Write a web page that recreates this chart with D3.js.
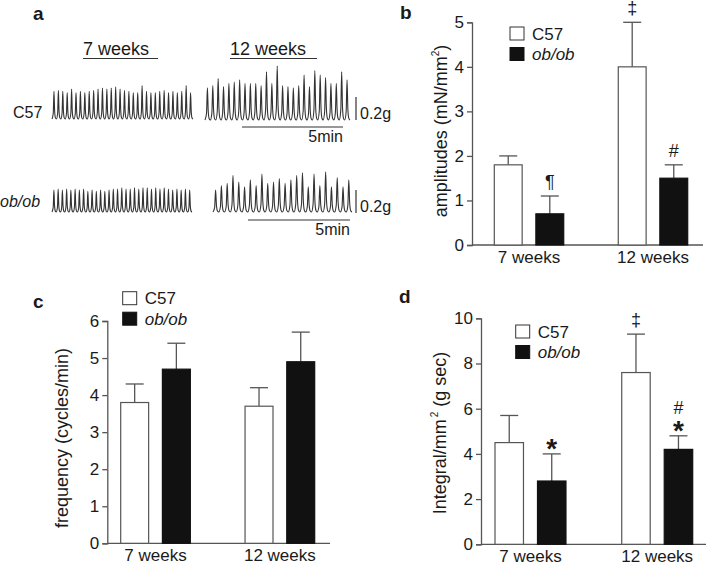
<!DOCTYPE html>
<html><head><meta charset="utf-8">
<script src="https://cdn.jsdelivr.net/npm/d3@7"></script>
<style>
body{margin:0;background:#fff}
svg{display:block}
text{font-family:"Liberation Sans",Arial,Helvetica,sans-serif;fill:#1a1a1a}
</style>
</head><body>
<svg id="chart" width="707" height="563"></svg>
<script>
// ---------- DATA ----------
const groups = ["7 weeks", "12 weeks"];
const series = ["C57", "ob/ob"];

// panel b: amplitudes (mN/mm²)
const ampC57 = [1.8, 4.0];
const ampC57Err = [0.2, 1.0];
const ampOb = [0.7, 1.5];
const ampObErr = [0.4, 0.3];
const ampTicks = [0, 1, 2, 3, 4, 5];
const ampMarkC57 = ["", "‡"];
const ampMarkOb = ["¶", "#"];

// panel c: frequency (cycles/min)
const freqC57 = [3.8, 3.7];
const freqC57Err = [0.5, 0.5];
const freqOb = [4.7, 4.9];
const freqObErr = [0.7, 0.8];
const freqTicks = [0, 1, 2, 3, 4, 5, 6];

// panel d: Integral/mm² (g sec)
const intC57 = [4.5, 7.6];
const intC57Err = [1.2, 1.7];
const intOb = [2.8, 4.2];
const intObErr = [1.2, 0.6];
const intTicks = [0, 2, 4, 6, 8, 10];
const intMarkC57 = ["", "‡"];
const intMarkOb = ["*", "#*"];

// panel a: peak amplitudes (g) of each contraction in the traces
const peaksC57w7 = [0.24,0.25,0.24,0.23,0.26,0.23,0.24,0.23,0.24,0.25,0.26,0.27,0.26,0.27,0.28,0.26,0.25,0.24,0.23,0.23,0.29,0.24,0.23,0.23,0.24,0.25,0.23,0.24,0.23,0.24,0.29,0.23];
const peaksC57w12 = [0.28,0.30,0.36,0.29,0.32,0.33,0.35,0.32,0.32,0.32,0.30,0.42,0.32,0.47,0.30,0.29,0.28,0.30,0.39,0.29,0.43,0.39,0.37,0.32,0.32,0.42,0.35];
const peaksObw7 = [0.19,0.20,0.19,0.20,0.19,0.20,0.19,0.20,0.18,0.19,0.18,0.19,0.18,0.19,0.20,0.20,0.21,0.20,0.20,0.21,0.20,0.21,0.21,0.20,0.21,0.20,0.21,0.20,0.19,0.20,0.19,0.20,0.19];
const peaksObw12 = [0.19,0.23,0.25,0.32,0.26,0.22,0.28,0.23,0.33,0.25,0.26,0.29,0.25,0.28,0.32,0.34,0.22,0.33,0.23,0.35,0.22,0.30,0.22,0.28];
const scaleBarG = 0.2;
const timeBarMin = 5;

// ---------- DRAW ----------
const svg = d3.select("#chart");
svg.append("rect").attr("width", 707).attr("height", 563).attr("fill", "#fff");
const GREY = "#555";

// ---- panel a ----
svg.append("text").attr("x", 33).attr("y", 20).attr("font-size", 19).attr("font-weight", "bold").text("a");

function waveData(peaks) {
  const pts = [[0, 0]];
  peaks.forEach((a, i) => {
    pts.push([i + 0.28, 0.2 * a]);
    pts.push([i + 0.45, a]);
    pts.push([i + 0.6, 0.28 * a]);
    pts.push([i + 0.78, 0.04 * a]);
    pts.push([i + 1, 0]);
  });
  return pts;
}
const pxPerG = 115;
function drawTrace(peaks, x0, x1, base) {
  const x = d3.scaleLinear().domain([0, peaks.length]).range([x0, x1]);
  const y = d3.scaleLinear().domain([0, 1]).range([base, base - pxPerG]);
  const line = d3.line().x(d => x(d[0])).y(d => y(d[1])).curve(d3.curveMonotoneX);
  svg.append("path").attr("d", line(waveData(peaks)))
    .attr("fill", "none").attr("stroke", "#333").attr("stroke-width", 1.1);
  return y;
}
const yC57 = drawTrace(peaksC57w7, 52, 193, 119);
drawTrace(peaksC57w12, 205, 350, 120);
const yOb = drawTrace(peaksObw7, 52, 192, 212);
drawTrace(peaksObw12, 213, 352, 212);

// headers
[["7 weeks", 83, 158], ["12 weeks", 230, 317]].forEach(([t, xa, xb]) => {
  svg.append("text").attr("x", xa).attr("y", 55).attr("font-size", 18).text(t);
  svg.append("line").attr("x1", xa).attr("x2", xb).attr("y1", 58.5).attr("y2", 58.5)
    .attr("stroke", "#333").attr("stroke-width", 1.2);
});
svg.append("text").attr("x", 13).attr("y", 118).attr("font-size", 16).text("C57");
svg.append("text").attr("x", 0).attr("y", 207).attr("font-size", 16).attr("font-style", "italic").text("ob/ob");

// scale bars
[[yC57, 119], [yOb, 212]].forEach(([y, b]) => {
  svg.append("line").attr("x1", 356).attr("x2", 356)
    .attr("y1", y(0) + 1).attr("y2", y(scaleBarG) + 1)
    .attr("stroke", "#333").attr("stroke-width", 1.2);
  svg.append("text").attr("x", 360).attr("y", b).attr("font-size", 16).text(scaleBarG + "g");
});
[[242, 343, 127, 142], [248, 350, 220, 235]].forEach(([xa, xb, yl, yt]) => {
  const t = d3.scaleLinear().domain([0, timeBarMin]).range([xa, xb]);
  svg.append("line").attr("x1", t(0)).attr("x2", t(timeBarMin)).attr("y1", yl).attr("y2", yl)
    .attr("stroke", "#333").attr("stroke-width", 1.2);
  svg.append("text").attr("x", t(timeBarMin)).attr("y", yt).attr("text-anchor", "end")
    .attr("font-size", 16).text(timeBarMin + "min");
});

// ---- bar panels ----
function barPanel(cfg) {
  const g = svg.append("g");
  const y = d3.scaleLinear().domain(cfg.domain).range([cfg.yBot, cfg.yTop]);
  const x0 = d3.scaleBand().domain(groups).range([cfg.bandL, cfg.bandR]).paddingInner(0.44).paddingOuter(0);
  const x1 = d3.scaleBand().domain(series).range([0, x0.bandwidth()]).paddingInner(0.33);
  const vals = [cfg.c57, cfg.ob], errs = [cfg.c57Err, cfg.obErr], marks = [cfg.markC57 || ["", ""], cfg.markOb || ["", ""]];
  const fills = ["#fff", "#111"];

  // x axis line
  g.append("line").attr("x1", cfg.axisX).attr("x2", cfg.xEnd).attr("y1", y(0)).attr("y2", y(0))
    .attr("stroke", GREY).attr("stroke-width", 1.3);
  // y axis
  const ax = g.append("g").attr("transform", `translate(${cfg.axisX},0)`)
    .call(d3.axisLeft(y).tickValues(cfg.ticks).tickFormat(d3.format("d")).tickSizeOuter(0).tickSize(5).tickPadding(3));
  ax.select(".domain").attr("stroke", GREY).attr("stroke-width", 1.3);
  ax.selectAll(".tick line").attr("stroke", GREY).attr("stroke-width", 1.3);
  ax.selectAll(".tick text").attr("font-size", 17).attr("font-family", "Liberation Sans, Arial, sans-serif").attr("fill", "#1a1a1a");

  series.forEach((s, si) => {
    groups.forEach((grp, gi) => {
      const bx = x0(grp) + x1(s), bw = x1.bandwidth(), cx = bx + bw / 2;
      const v = vals[si][gi], e = errs[si][gi];
      g.append("line").attr("x1", cx).attr("x2", cx).attr("y1", y(v)).attr("y2", y(v + e))
        .attr("stroke", GREY).attr("stroke-width", 1.3);
      g.append("line").attr("x1", cx - 9).attr("x2", cx + 9).attr("y1", y(v + e)).attr("y2", y(v + e))
        .attr("stroke", GREY).attr("stroke-width", 1.3);
      g.append("rect").attr("x", bx).attr("y", y(v)).attr("width", bw).attr("height", y(0) - y(v))
        .attr("fill", fills[si]).attr("stroke", si === 0 ? GREY : "#111").attr("stroke-width", 1.2);
      // significance marks
      const m = marks[si][gi];
      let yy = y(v + e);
      for (let k = m.length - 1; k >= 0; k--) {
        const ch = m[k];
        if (ch === "*") {
          g.append("text").attr("x", cx).attr("y", yy + 4).attr("text-anchor", "middle")
            .attr("font-size", 28).attr("font-weight", "bold").text("*");
          yy -= 14;
        } else {
          g.append("text").attr("x", cx).attr("y", yy - 8).attr("text-anchor", "middle")
            .attr("font-size", 18).text(ch);
          yy -= 18;
        }
      }
    });
  });
  // x labels
  groups.forEach(grp => {
    g.append("text").attr("x", x0(grp) + x0.bandwidth() / 2).attr("y", y(0) + 18)
      .attr("text-anchor", "middle").attr("font-size", 17).text(grp);
  });
  // y title
  const t = g.append("text").attr("transform", `translate(${cfg.titleX},${cfg.titleY}) rotate(-90)`)
    .attr("text-anchor", "middle").attr("font-size", 18);
  cfg.title(t);
  // legend
  series.forEach((s, si) => {
    const ly = cfg.legY + si * 20.5;
    g.append("rect").attr("x", cfg.legX).attr("y", ly).attr("width", 14).attr("height", 13)
      .attr("fill", fills[si]).attr("stroke", si === 0 ? "#333" : "#111").attr("stroke-width", 1);
    g.append("text").attr("x", cfg.legX + 22).attr("y", ly + 12.5).attr("font-size", 17)
      .attr("font-style", si === 1 ? "italic" : "normal").text(s);
  });
  svg.append("text").attr("x", cfg.letter[1]).attr("y", cfg.letter[2]).attr("font-size", 19)
    .attr("font-weight", "bold").text(cfg.letter[0]);
}

barPanel({
  domain: [0, 5], ticks: ampTicks, yBot: 245, yTop: 22.3, axisX: 472, xEnd: 703,
  bandL: 494.3, bandR: 687.7, c57: ampC57, c57Err: ampC57Err, ob: ampOb, obErr: ampObErr,
  markC57: ampMarkC57, markOb: ampMarkOb, titleX: 447, titleY: 131,
  title: t => { t.append("tspan").text("amplitudes (mN/mm"); t.append("tspan").attr("font-size", 10).attr("dy", -8).text("2"); t.append("tspan").attr("dy", 8).text(")"); },
  legX: 510, legY: 27, letter: ["b", 400, 19]
});
barPanel({
  domain: [0, 6], ticks: freqTicks, yBot: 543.3, yTop: 321, axisX: 107.3, xEnd: 330,
  bandL: 120.7, bandR: 314.7, c57: freqC57, c57Err: freqC57Err, ob: freqOb, obErr: freqObErr,
  titleX: 68, titleY: 438,
  title: t => t.text("frequency (cycles/min)"),
  legX: 122.7, legY: 291.7, letter: ["c", 33, 308]
});
barPanel({
  domain: [0, 10], ticks: intTicks, yBot: 544.3, yTop: 318.3, axisX: 481, xEnd: 706,
  bandL: 495, bandR: 692.7, c57: intC57, c57Err: intC57Err, ob: intOb, obErr: intObErr,
  markC57: intMarkC57, markOb: intMarkOb, titleX: 446, titleY: 433,
  title: t => { t.append("tspan").text("Integral/mm"); t.append("tspan").attr("font-size", 10).attr("dy", -8).attr("dx", 2).text("2"); t.append("tspan").attr("dy", 8).text(" (g sec)"); },
  legX: 515.7, legY: 325, letter: ["d", 399, 303]
});
</script>
</body></html>
